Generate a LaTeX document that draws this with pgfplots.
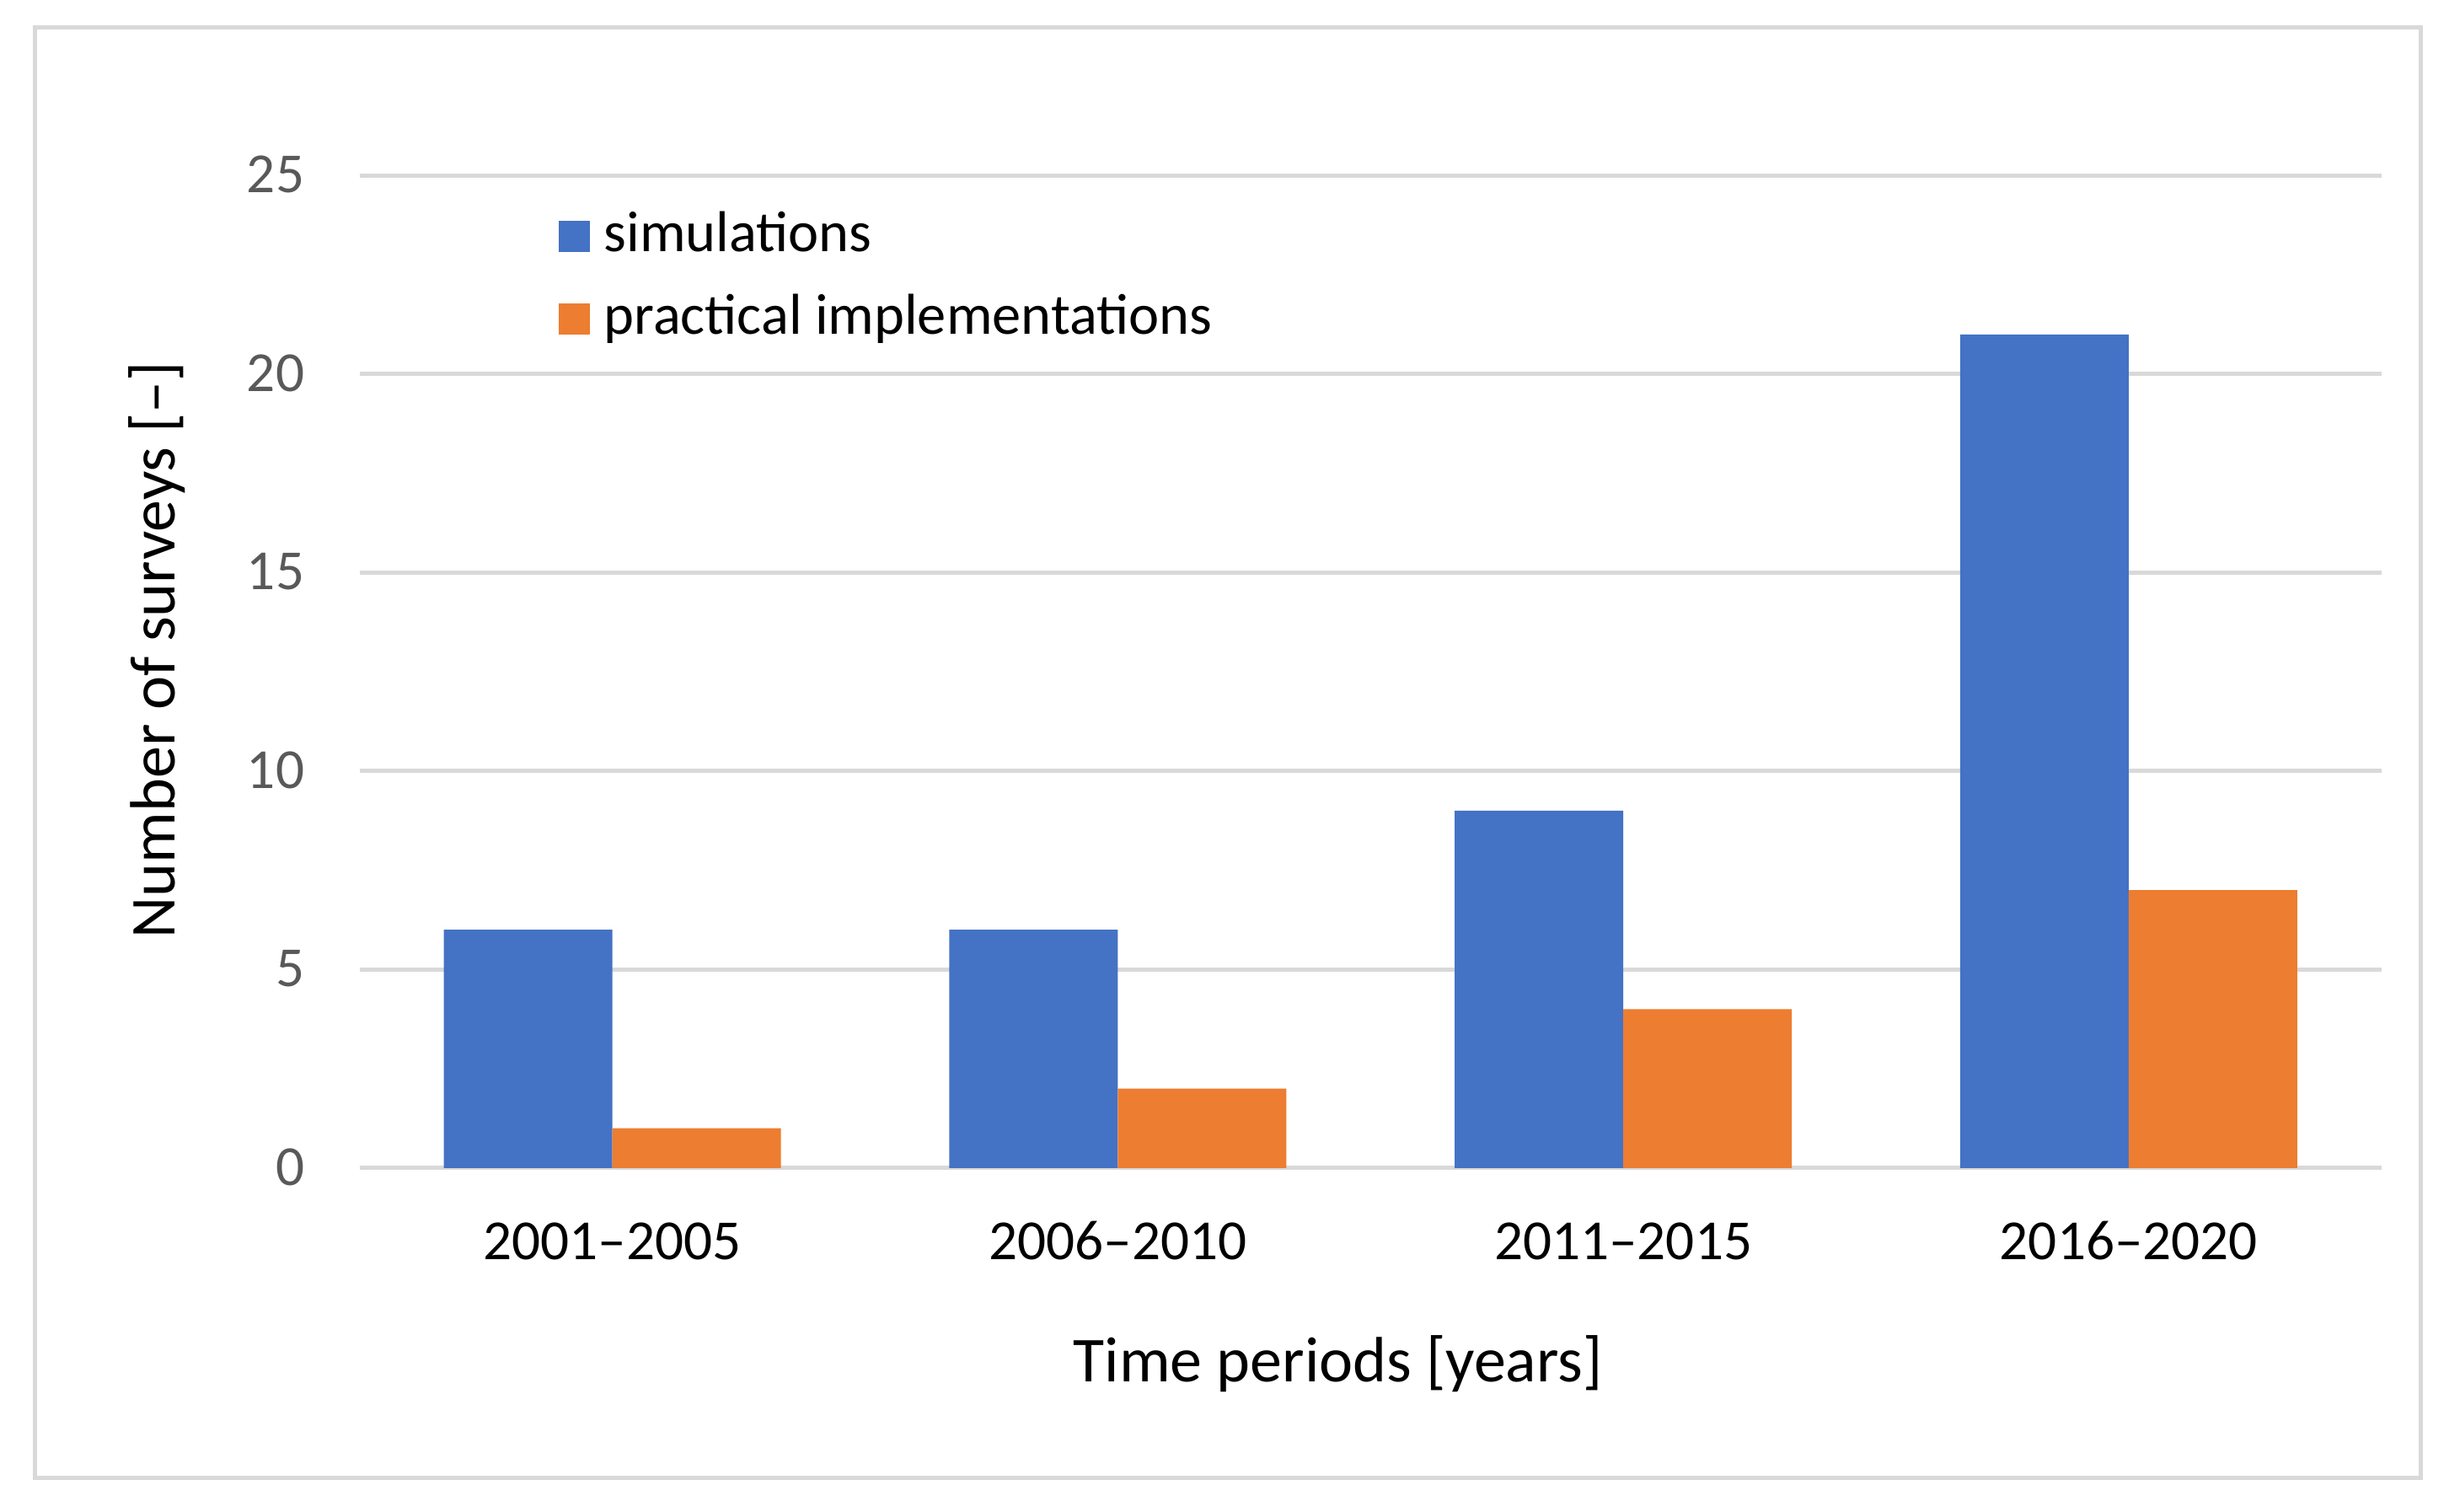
\documentclass[border=0pt]{standalone}
\usepackage{fontspec}
\setmainfont{Carlito}
\usepackage{pgfplots}
\pgfplotsset{compat=1.18}
\definecolor{simblue}{HTML}{4472C4}
\definecolor{pracorange}{HTML}{ED7D31}
\definecolor{gridgray}{HTML}{D9D9D9}
\definecolor{ticktext}{HTML}{595959}

\begin{document}
\begin{tikzpicture}
% outer chart frame
\draw[gridgray, line width=1.25pt] (10.375pt,10.175pt) rectangle (718.125pt,440.375pt);
\begin{axis}[
  at={(106.675pt,102.05pt)}, anchor=south west,
  scale only axis, width=599.75pt, height=294.35pt,
  ybar=0pt, bar width=49.98pt,
  xmin=-0.5, xmax=3.5, ymin=0, ymax=25,
  xtick={0,1,2,3},
  xticklabels={2001–2005,2006–2010,2011–2015,2016–2020},
  ytick={0,5,...,25},
  axis line style={draw=none},
  major tick length=0pt,
  ymajorgrids, grid style={gridgray, line width=1.25pt},
  /pgf/number format/assume math mode=true,
  tick label style={font=\fontsize{16.8}{20}\selectfont, inner sep=0pt},
  yticklabel style={anchor=base east, xshift=-16.2pt, yshift=-5.1pt, text=ticktext},
  xticklabel style={anchor=base, yshift=-27.3pt, text=black},
  xlabel={Time periods [years]},
  ylabel={Number of surveys [–]},
  label style={font=\fontsize{19}{23}\selectfont, inner sep=0pt},
  xlabel style={at={(axis description cs:0.4839,-0.2159)}, anchor=base},
  ylabel style={at={(axis description cs:-0.0913,0.522)}, anchor=base},
  legend style={at={(axis description cs:0.0986,0.9545)}, anchor=north west,
    draw=none, fill=none, inner sep=0pt, outer sep=0pt,
    row sep=12.15pt, column sep=4.1pt,
    font=\fontsize{17.1}{20}\selectfont,
    nodes={inner sep=0pt, text height=9.25pt, text depth=3pt, anchor=base west}},
  legend image code/.code={\fill[#1] (0pt,0pt) rectangle (9.25pt,9.25pt);},
]
\addplot[fill=simblue, draw=none] coordinates {(0,6) (1,6) (2,9) (3,21)};
\addplot[fill=pracorange, draw=none] coordinates {(0,1) (1,2) (2,4) (3,7)};
\legend{simulations, practical implementations}
\end{axis}
\pgfresetboundingbox
\path (0pt,0pt) rectangle (729.75pt,448.5pt);
\end{tikzpicture}
\end{document}
